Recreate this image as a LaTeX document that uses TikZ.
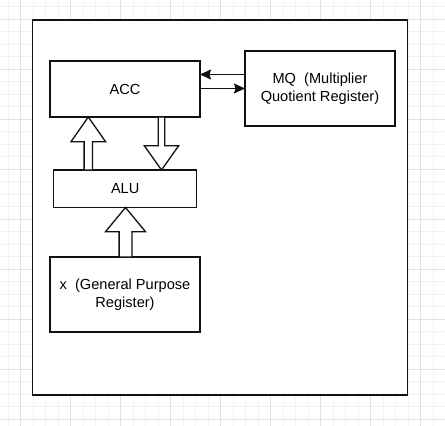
\documentclass[tikz,border=0pt]{standalone}
\usepackage{fontspec}
\setmainfont{Liberation Sans}
\usetikzlibrary{arrows.meta,calc}
\definecolor{gridminor}{HTML}{F3F3F3}
\definecolor{gridmajor}{HTML}{E2E2E2}
\definecolor{ink}{HTML}{111111}
\begin{document}
\begin{tikzpicture}[x=1pt,y=-1pt,
  box/.style={draw=ink, line width=1.3pt, fill=white, inner sep=0pt, outer sep=0pt,
    align=center, anchor=north west, text=black, font=\fontsize{14.6}{17.7}\selectfont},
  link/.style={draw=ink, line width=1.3pt, -{Stealth[length=11pt,width=10pt,inset=1.5pt]}},
  fatarrow/.style={draw=ink, line width=1.3pt, fill=white, line join=miter},
  minorline/.style={draw=gridminor, line width=0.8pt},
  majorline/.style={draw=gridmajor, line width=1pt}]
\useasboundingbox (0,0) rectangle (445,426);
\fill[white] (0,0) rectangle (445,426);
% background grid
\foreach \i in {0,...,35} {
  \draw[minorline] ({8.2+12.5*\i},0) -- ({8.2+12.5*\i},426);
  \draw[minorline] (0,{6.5+12.5*\i}) -- (445,{6.5+12.5*\i});
}
\foreach \i in {0,...,8} {
  \draw[majorline] ({20.7+50*\i},0) -- ({20.7+50*\i},426);
  \draw[majorline] (0,{19+50*\i}) -- (445,{19+50*\i});
}
% frame and registers
\node[box, minimum width=375pt, minimum height=375pt] (frame) at (32.5,20) {};
\node[box, minimum width=150pt, minimum height=56pt] (acc) at (50,61) {ACC};
\node[box, minimum width=150pt, minimum height=75pt] (mq) at (245,51) {MQ\ \ (Multiplier\\Quotient Register)};
\node[box, minimum width=143pt, minimum height=37.5pt] (alu) at (53.7,170) {ALU};
\node[box, minimum width=150pt, minimum height=75pt] (xr) at (50,257) {x\ \ (General Purpose\\Register)};
% ACC <-> MQ
\draw[link] (mq.west |- 0,74.5) -- (acc.east |- 0,74.5);
\draw[link] (acc.east |- 0,88.5) -- (mq.west |- 0,88.5);
% block arrows
\draw[fatarrow] (84.1,0 |- alu.north) -- (84.1,141.7) -- (71,141.7) -- (88.3,0 |- acc.south)
  -- (105.6,141.7) -- (92.5,141.7) -- (92.5,0 |- alu.north) -- cycle;
\draw[fatarrow] (158.2,0 |- acc.south) -- (158.2,145.7) -- (144.3,145.7) -- (161.5,0 |- alu.north)
  -- (178.7,145.7) -- (164.8,145.7) -- (164.8,0 |- acc.south) -- cycle;
\draw[fatarrow] (119.1,0 |- xr.north) -- (119.1,231.7) -- (105.5,231.7) -- (125.5,0 |- alu.south)
  -- (145.5,231.7) -- (131.9,231.7) -- (131.9,0 |- xr.north) -- cycle;
\end{tikzpicture}
\end{document}
